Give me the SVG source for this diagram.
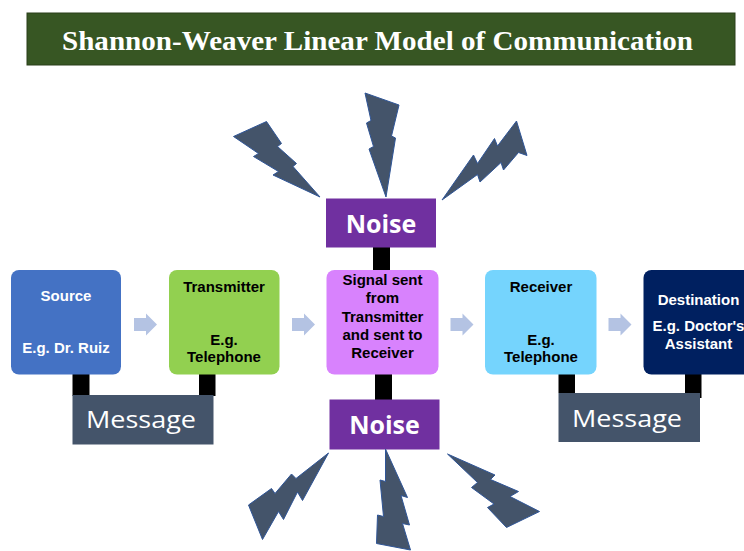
<svg xmlns="http://www.w3.org/2000/svg" width="744" height="551" viewBox="0 0 744 551">
  <style>
    .lbl { font-family: "Liberation Sans", Arial, sans-serif; font-weight: bold; font-size: 15px; text-anchor: middle; }
    .dark { fill: #000000; }
    .light { fill: #ffffff; }
    .noise-txt { font-family: "Open Sans", "Liberation Sans", sans-serif; font-weight: bold; font-size: 25px; fill: #ffffff; text-anchor: middle; }
    .msg-txt { font-family: "Open Sans", "Liberation Sans", sans-serif; font-size: 24px; fill: #ffffff; }
    .bolt { fill: #44546A; stroke: #2F5597; stroke-width: 1; stroke-linejoin: miter; }
    .flow { fill: #B4C3E3; }
    .link { fill: #000000; }
  </style>

  <rect width="744" height="551" fill="#ffffff"/>

  <!-- Title banner -->
  <g id="title">
    <rect x="27" y="13" width="708" height="52" fill="#375623" stroke="#2A3F1A" stroke-width="1"/>
    <text x="62" y="50" font-family="'Liberation Serif', serif" font-weight="bold" font-size="27" fill="#ffffff" textLength="631" lengthAdjust="spacingAndGlyphs">Shannon-Weaver Linear Model of Communication</text>
  </g>

  <!-- Connectors: flow arrows and black link bars -->
  <g id="connectors">
    <path class="flow" d="M134,318 H146 V313.5 L157,324.5 L146,335.5 V331 H134 Z"/>
    <path class="flow" d="M292,318 H304 V313.5 L315,324.5 L304,335.5 V331 H292 Z"/>
    <path class="flow" d="M450.5,318 H462.5 V313.5 L473.5,324.5 L462.5,335.5 V331 H450.5 Z"/>
    <path class="flow" d="M608.5,318 H620.5 V313.5 L631.5,324.5 L620.5,335.5 V331 H608.5 Z"/>

    <rect class="link" x="72.5" y="374" width="17" height="22"/>
    <rect class="link" x="199" y="374" width="16.5" height="22"/>
    <rect class="link" x="373" y="247" width="17" height="23"/>
    <rect class="link" x="375" y="374" width="17" height="26"/>
    <rect class="link" x="558.5" y="374" width="16.5" height="19"/>
    <rect class="link" x="685" y="374" width="16.5" height="24"/>
  </g>

  <!-- Source -->
  <g id="source">
    <rect x="11" y="270" width="110" height="104.5" rx="8" fill="#4472C4"/>
    <text class="lbl light" x="66" y="301">Source</text>
    <text class="lbl light" x="66" y="352.5">E.g. Dr. Ruiz</text>
  </g>

  <!-- Transmitter -->
  <g id="transmitter">
    <rect x="169" y="270" width="110.5" height="104.5" rx="8" fill="#92D050"/>
    <text class="lbl dark" x="224" y="291.5">Transmitter</text>
    <text class="lbl dark" x="224" y="344.5">E.g.</text>
    <text class="lbl dark" x="224" y="362">Telephone</text>
  </g>

  <!-- Signal -->
  <g id="signal">
    <rect x="326.5" y="270" width="112" height="104.5" rx="8" fill="#D882FD"/>
    <text class="lbl dark" x="382.5" y="285">Signal sent</text>
    <text class="lbl dark" x="382.5" y="303.3">from</text>
    <text class="lbl dark" x="382.5" y="321.6">Transmitter</text>
    <text class="lbl dark" x="382.5" y="340">and sent to</text>
    <text class="lbl dark" x="382.5" y="358.3">Receiver</text>
  </g>

  <!-- Receiver -->
  <g id="receiver">
    <rect x="485" y="270" width="111.5" height="104.5" rx="8" fill="#75D4FD"/>
    <text class="lbl dark" x="541" y="291.5">Receiver</text>
    <text class="lbl dark" x="541" y="344.5">E.g.</text>
    <text class="lbl dark" x="541" y="362">Telephone</text>
  </g>

  <!-- Destination -->
  <g id="destination">
    <rect x="643.5" y="270" width="111" height="104.5" rx="8" fill="#002060"/>
    <text class="lbl light" x="698.5" y="304.5">Destination</text>
    <text class="lbl light" x="698.5" y="330.5">E.g. Doctor's</text>
    <text class="lbl light" x="698.5" y="348.5">Assistant</text>
  </g>

  <!-- Message (sender side) -->
  <g id="message-left">
    <rect x="72.5" y="395" width="141" height="49.5" fill="#44546A"/>
    <text class="msg-txt" x="86" y="428" textLength="110" lengthAdjust="spacingAndGlyphs">Message</text>
  </g>

  <!-- Message (receiver side) -->
  <g id="message-right">
    <rect x="558.5" y="393" width="141.5" height="49" fill="#44546A"/>
    <text class="msg-txt" x="572" y="426.5" textLength="110" lengthAdjust="spacingAndGlyphs">Message</text>
  </g>

  <!-- Noise above the channel -->
  <g id="noise-top">
    <rect x="326" y="198.5" width="110" height="49" fill="#7030A0"/>
    <text class="noise-txt" x="381" y="233">Noise</text>
  </g>

  <!-- Noise below the channel -->
  <g id="noise-bottom">
    <rect x="329.5" y="399.5" width="110" height="50" fill="#7030A0"/>
    <text class="noise-txt" x="384.5" y="434">Noise</text>
  </g>

  <!-- Lightning bolts around the noise boxes -->
  <g id="bolts">
    <polygon class="bolt" points="233.5,136.5 266.5,121.5 281.5,143.5 277.5,146.5 296.5,163.5 293,166.5 320,197 273,175 278.5,171.5 253.5,156.5 258.5,153.5"/>
    <polygon class="bolt" points="365,93 399,105 391.5,136 395.5,138 386,197 369,149 373.5,146.5 366.5,123 371,120.5"/>
    <polygon class="bolt" points="442,200 473.5,155 477.5,163.5 494.5,138.5 497.5,146 516.5,121 527,155.5 518.5,152.5 503.5,170 501,162.5 480,182 477.5,174.5"/>
    <polygon class="bolt" points="328.5,453 302.5,500.5 297.5,492 283.5,519.5 278.5,511.5 262.5,539.5 248.5,505 271.5,488.5 275,493.5 291.5,474 296,478.5"/>
    <polygon class="bolt" points="385.5,449 407.5,497.5 401,495.5 409.5,525 402.5,523.5 410.5,550 376.5,543.5 377.5,515 383.5,516.5 380,480 385.5,481.5"/>
    <polygon class="bolt" points="447.5,454 495,475 490.5,479.5 518.5,491.5 510,496.5 539.5,511.5 506.5,527.5 487.5,507.5 494,504 471.5,487.5 477.5,482.5"/>
  </g>
</svg>
